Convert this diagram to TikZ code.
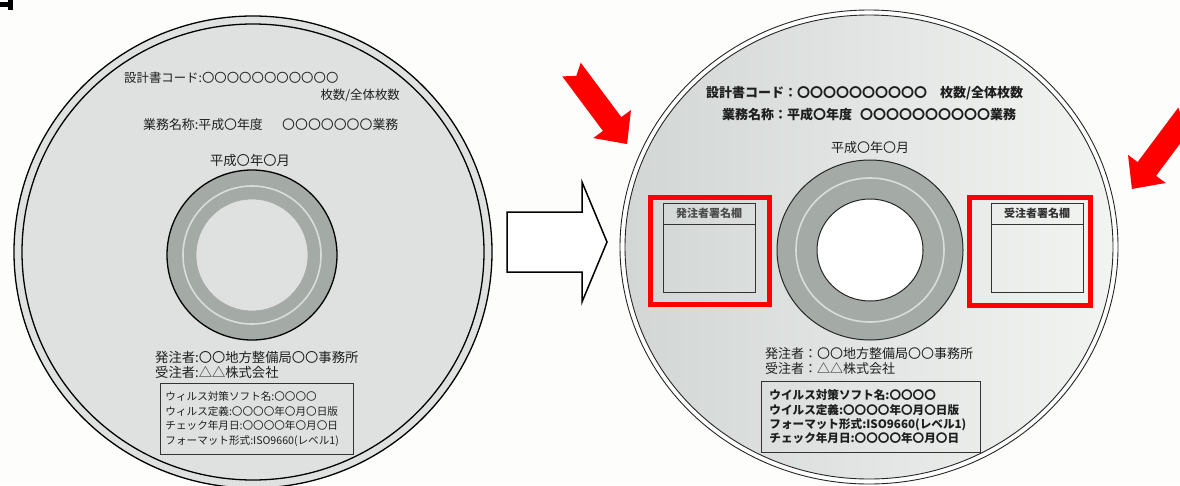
\documentclass[tikz,border=0pt]{standalone}
\usepackage{fontspec}
\newfontfamily\jp{Noto Sans CJK JP}
\usepackage{xcolor}
\usepackage{tikz}
\usetikzlibrary{
	calc,
	positioning,
	shadings
	}
\definecolor{fond}{HTML}{FDFDFB}
\definecolor{disque}{HTML}{DEE1E0}
\definecolor{disqueG}{HTML}{D2D6D4}
\definecolor{disqueD}{HTML}{F2F4F2}
\definecolor{moyeu}{HTML}{A4ABA7}
\definecolor{anneau}{HTML}{D9DDDA}
\definecolor{rouge}{HTML}{FF0000}
\definecolor{encre}{HTML}{1E1E1E}
\newcommand{\fA}{\jp\fontsize{12.4}{14}\selectfont}
\newcommand{\fAb}{\jp\fontsize{12.9}{14}\selectfont}
\newcommand{\fB}{\jp\fontsize{13.3}{15}\selectfont}
\newcommand{\fC}{\jp\fontsize{10.6}{14.5}\selectfont}
\newcommand{\fD}{\jp\bfseries\fontsize{13}{15}\selectfont}
\newcommand{\fE}{\jp\fontsize{13}{15}\selectfont}
\newcommand{\fF}{\jp\bfseries\fontsize{11.6}{14.3}\selectfont}
\newcommand{\fG}{\jp\bfseries\fontsize{11}{12}\selectfont}
\tikzstyle{etiq}=[inner sep=0pt,anchor=west,text=encre]
\tikzstyle{boite}=[draw=black!80,line width=0.9pt,anchor=north west,inner ysep=0pt,align=left,text=encre]
\tikzstyle{cadre}=[draw=rouge,line width=5pt,inner sep=0pt]
\tikzstyle{signe}=[draw=black!80,line width=0.9pt,inner sep=0pt]
\tikzstyle{fleche-rouge}=[fill=rouge]
\newcommand{\flecheRouge}[3]{%
  \fill[fleche-rouge,shift={(#1,#2)},rotate=#3] (0,11.5) -- (68,11.5) -- (68,23.5)
     -- (93,0) -- (68,-23.5) -- (68,-11.5) -- (0,-11.5) -- (8,0) -- cycle;}

\begin{document}
\begin{tikzpicture}[x=1pt,y=-1pt]
\useasboundingbox (0,0) rectangle (1180,485);
\clip (0,0) rectangle (1180,485);
\fill[fond] (0,0) rectangle (1180,485);
\fill (0,2) rectangle (13,7);
\fill (8,0) rectangle (13,10);

% disque avant
\coordinate (cg) at (253,252);
\filldraw[fill=disque,line width=1.3pt] (cg) ellipse [x radius=239,y radius=236];
\draw[line width=1.3pt] (cg) ellipse [x radius=231,y radius=228];
\coordinate (mg) at (252,255);
\filldraw[fill=moyeu,line width=1.3pt] (mg) circle [radius=85];
\draw[anneau,line width=1.6pt] (mg) circle [radius=69];
\filldraw[fill=disque,draw=black!35,line width=0.6pt] (mg) circle [radius=56];

\node[etiq,font=\fA] (codeG) at (124,78) {設計書コード:〇〇〇〇〇〇〇〇〇〇〇};
\node[etiq,font=\fA,anchor=east] (maisuG) at (400,95) {枚数/全体枚数};
\node[etiq,font=\fAb] (gyomuG) at (143,125) {業務名称:平成〇年度\hspace{1.5em}〇〇〇〇〇〇〇業務};
\node[etiq,font=\fB,anchor=center] (dateG) at (250,160) {平成〇年〇月};
\node[etiq,font=\fB] (hatchuG) at (155,357) {発注者:〇〇地方整備局〇〇事務所};
\node[etiq,font=\fB,below=2.5pt of hatchuG.south west,anchor=north west] (juchuG) {受注者:△△株式会社};
\node[boite,font=\fC,text width=183pt,inner xsep=5pt,minimum height=71pt] (virusG) at (160,383)
  {ウィルス対策ソフト名:〇〇〇〇\\ウィルス定義:〇〇〇〇年〇月〇日版\\チェック年月日:〇〇〇〇年〇月〇日\\フォーマット形式:ISO9660(レベル1)};

% fleche centrale
\filldraw[fill=white,line width=1.5pt,line join=miter] (507,212) -- (582,212) -- (582,182)
   -- (607,242) -- (582,302) -- (582,272) -- (507,272) -- cycle;

% disque apres
\coordinate (cd) at (869,247);
\filldraw[fill=white,draw=black!85,line width=0.9pt] (cd) ellipse [x radius=249,y radius=237];
\shadedraw[left color=disqueG,right color=disqueD,draw=black!85,line width=0.9pt] (cd) ellipse [x radius=244,y radius=232];
\coordinate (md) at (870,250);
\filldraw[fill=moyeu,draw=black!85,line width=1pt] (md) ellipse [x radius=93,y radius=90];
\draw[anneau,line width=1.6pt] (md) ellipse [x radius=74,y radius=72];
\filldraw[fill=white,draw=black!85,line width=1pt] (md) ellipse [x radius=53,y radius=51];

\node[etiq,font=\fD] (codeD) at (706,93) {設計書コード：〇〇〇〇〇〇〇〇〇〇\hspace{1em}枚数/全体枚数};
\node[etiq,font=\fD] (gyomuD) at (722,115) {業務名称：平成〇年度\hspace{0.6em}〇〇〇〇〇〇〇〇〇〇業務};
\node[etiq,font=\fE,anchor=center] (dateD) at (870,148) {平成〇年〇月};
\node[etiq,font=\fE] (hatchuD) at (765,354) {発注者：〇〇地方整備局〇〇事務所};
\node[etiq,font=\fE,below=2pt of hatchuD.south west,anchor=north west] (juchuD) {受注者：△△株式会社};
\node[boite,font=\fF,text width=203pt,inner xsep=8pt,minimum height=71pt] (virusD) at (761,381)
  {ウイルス対策ソフト名:〇〇〇〇\\ウイルス定義:〇〇〇〇年〇月〇日版\\フォーマット形式:ISO9660(レベル1)\\チェック年月日:〇〇〇〇年〇月〇日};

% signatures
\node[cadre,minimum width=119pt,minimum height=107pt] (cadreG) at (710,251) {};
\node[signe,minimum width=92pt,minimum height=89pt] (signeG) at (709,247.5) {};
\draw[black!80,line width=0.9pt] ($(signeG.north west)+(0,22)$) -- ($(signeG.north east)+(0,22)$);
\node[font=\fG,text=black!70,inner sep=0pt] (titreG) at ($(signeG.north)+(0,11)$) {発注者署名欄};

\node[cadre,minimum width=121pt,minimum height=108pt] (cadreD) at (1030,251.5) {};
\node[signe,minimum width=92pt,minimum height=89pt] (signeD) at (1037,247.5) {};
\draw[black!80,line width=0.9pt] ($(signeD.north west)+(0,22)$) -- ($(signeD.north east)+(0,22)$);
\node[font=\fG,text=black!80,inner sep=0pt] (titreD) at ($(signeD.north)+(0,11)$) {受注者署名欄};

\flecheRouge{571.5}{69.5}{-53.3}
\flecheRouge{1187.5}{114.4}{-126.7}
\end{tikzpicture}
\end{document}
